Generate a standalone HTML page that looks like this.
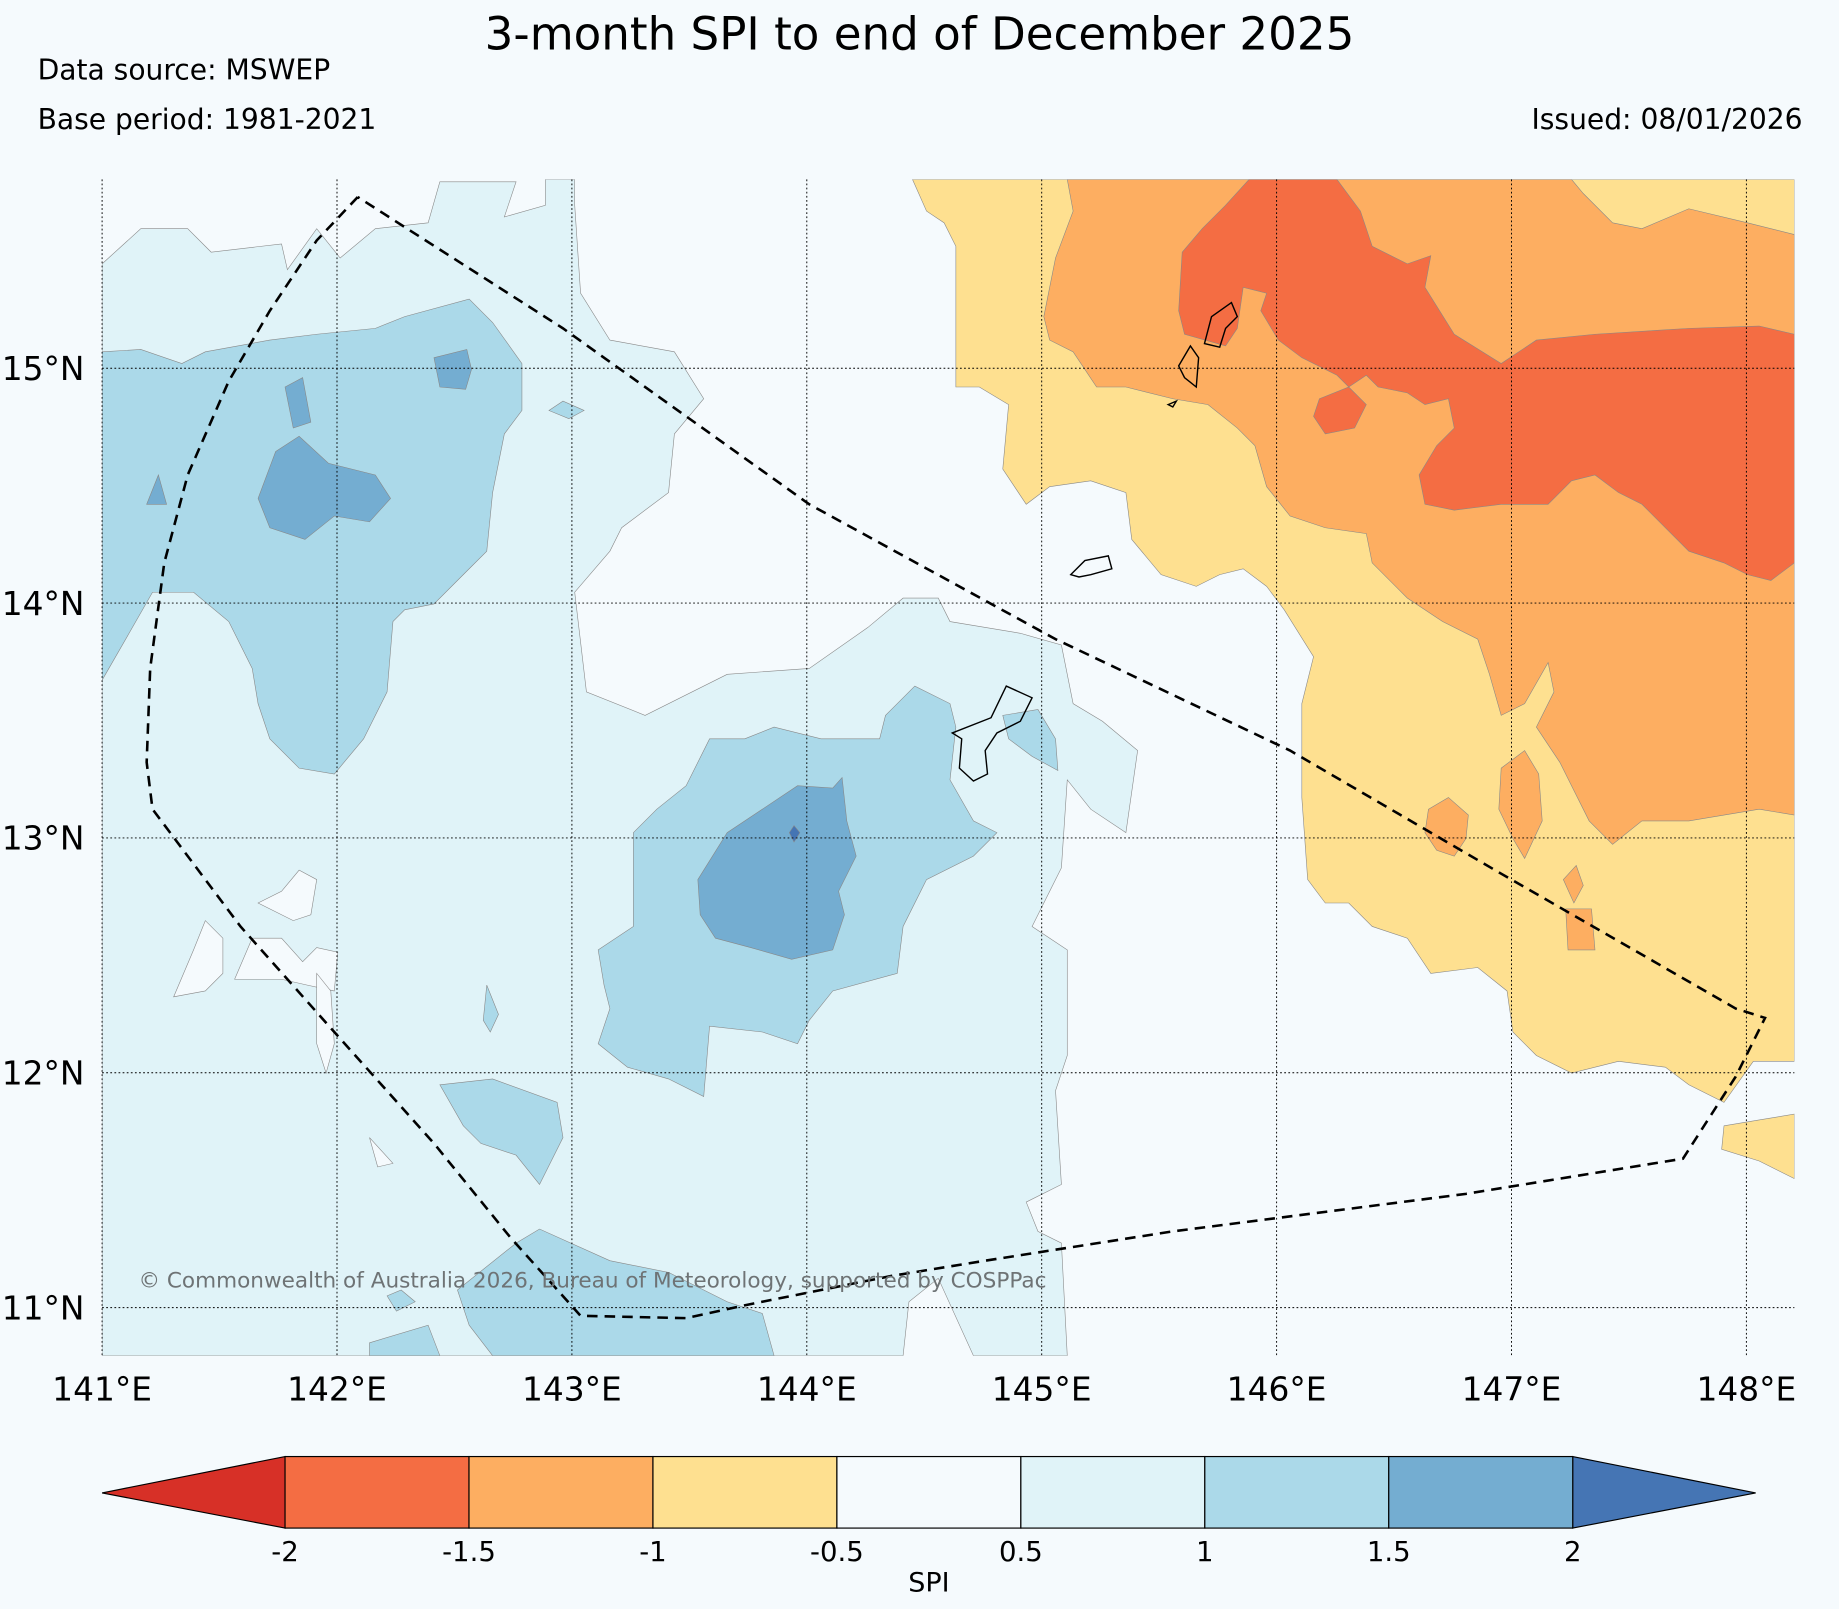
<!DOCTYPE html>
<html><head><meta charset="utf-8"><style>
html,body{margin:0;padding:0;background:#f5fafd;}
svg{display:block;font-family:"DejaVu Sans","Liberation Sans",sans-serif;}
</style></head><body>
<svg id="map" width="1839" height="1609" viewBox="0 0 1568 1372" xmlns="http://www.w3.org/2000/svg">
<rect x="0" y="0" width="1568" height="1372" fill="#f5fafd"/>
<text x="784" y="42" text-anchor="middle" font-size="38.5" fill="#000">3-month SPI to end of December 2025</text>
<text x="32" y="68" font-size="24">Data source: MSWEP</text>
<text x="32" y="110" font-size="24">Base period: 1981-2021</text>
<text x="1537" y="110" text-anchor="end" font-size="24">Issued: 08/01/2026</text>
<defs><clipPath id="plotclip"><rect x="87" y="153" width="1443" height="1003"/></clipPath></defs>
<g id="plot" clip-path="url(#plotclip)"></g>
<g id="axes"></g>
<g id="cbar"></g>
</svg>
<script>
// Map axis: projected lon/lat extents
const lonTicks = [141,142,143,144,145,146,147,148];
const latTicks = [15,14,13,12,11];
const cbarLevels = [-2,-1.5,-1,-0.5,0.5,1,1.5,2];
const cbarColors = ["#f46d43","#fdae61","#fee090","#f5fafd","#e0f3f8","#abd9e9","#74add1"];
const underColor = "#d73027";
const overColor = "#4575b4";
// contour polygons in plot coordinates (reference frame)
const lightBlue = [[87,225],[120,195],[160,195],[180,215],[240,208],[245,230],[270,195],[290,220],[320,195],[365,190],[375,155],[440,155],[430,185],[465,175],[465,153],[490,153],[490,175],[495,250],[520,290],[575,300],[600,340],[575,370],[570,420],[530,450],[520,470],[490,505],[500,590],[550,610],[620,575],[690,570],[740,535],[770,510],[800,510],[810,530],[870,540],[905,550],[915,600],[940,615],[970,640],[960,710],[930,690],[910,665],[905,740],[880,790],[910,810],[910,900],[900,930],[905,1010],[875,1025],[885,1050],[905,1060],[910,1156],[830,1156],[800,1090],[775,1110],[770,1156],[87,1156]];
const whiteHoles = [[[220,770],[240,760],[255,742],[270,750],[265,780],[250,785]],[[148,850],[165,810],[175,785],[190,800],[190,830],[175,845]],[[200,835],[215,800],[240,800],[258,820],[270,808],[288,812],[285,845],[262,840],[240,835]],[[270,830],[282,845],[285,890],[278,915],[270,890]],[[315,970],[322,995],[335,992]]];
const midBlue = [[[87,300],[120,298],[155,310],[175,300],[230,290],[270,285],[320,280],[345,270],[400,255],[420,275],[445,310],[445,350],[430,370],[420,420],[415,470],[395,490],[370,515],[345,520],[335,530],[330,590],[310,630],[285,660],[255,655],[230,630],[220,600],[215,570],[195,530],[165,505],[130,505],[110,540],[87,580]],
[[540,710],[560,690],[585,670],[605,630],[635,630],[660,620],[700,630],[750,630],[755,610],[780,585],[810,600],[815,620],[810,665],[830,700],[850,710],[830,730],[790,750],[770,790],[765,830],[710,845],[690,870],[680,890],[650,880],[605,875],[600,935],[570,920],[535,910],[510,890],[520,860],[515,840],[510,810],[540,790],[540,760]],
[[375,925],[420,920],[475,940],[480,970],[460,1010],[440,985],[410,975],[395,960]],
[[390,1100],[440,1060],[460,1048],[520,1075],[570,1085],[620,1110],[650,1120],[660,1156],[420,1156],[400,1130]],
[[315,1145],[365,1130],[375,1156],[315,1156]],[[330,1105],[342,1100],[354,1110],[338,1118]],
[[855,610],[885,605],[900,630],[902,657],[880,645],[860,630]],[[468,350],[480,342],[498,350],[485,357]],[[415,840],[425,865],[418,880],[412,870]]];
const darkBlue = [[[370,305],[398,298],[402,315],[397,332],[375,330]],[[243,330],[258,322],[265,360],[250,365]],[[125,430],[135,405],[142,430]],[[235,385],[255,372],[280,395],[320,405],[333,425],[315,445],[285,440],[260,460],[230,450],[220,425]],[[595,750],[620,710],[680,670],[710,672],[718,663],[722,700],[730,730],[715,760],[720,780],[710,810],[675,818],[640,808],[610,800],[597,780]]];
const darkestBlue = [[[673,710],[677,704],[682,710],[677,718]]];
const yellow = [[[778,153],[790,180],[805,190],[815,210],[815,330],[835,330],[860,345],[855,400],[875,430],[895,415],[930,410],[960,420],[965,460],[990,490],[1020,500],[1040,490],[1060,485],[1080,500],[1095,520],[1120,560],[1110,600],[1110,680],[1115,750],[1130,770],[1150,770],[1170,790],[1200,800],[1220,830],[1260,825],[1285,845],[1290,880],[1310,900],[1340,915],[1380,905],[1420,910],[1440,925],[1470,940],[1495,905],[1530,905],[1530,153]],[[1470,960],[1500,955],[1530,950],[1530,1005],[1500,990],[1468,980]]];
const orange = [[[910,153],[915,180],[900,220],[890,270],[895,290],[915,300],[935,330],[960,330],[1000,340],[1030,345],[1055,365],[1070,380],[1080,415],[1100,440],[1130,450],[1165,455],[1170,480],[1200,510],[1230,530],[1260,545],[1270,575],[1280,610],[1300,600],[1320,565],[1325,590],[1310,620],[1330,650],[1340,670],[1355,700],[1375,720],[1400,700],[1440,700],[1500,690],[1530,695],[1530,200],[1490,190],[1440,178],[1400,195],[1375,190],[1350,165],[1340,153]],
[[1218,690],[1235,680],[1252,695],[1250,715],[1240,730],[1225,725],[1215,710]],[[1280,655],[1300,640],[1312,660],[1315,700],[1300,732],[1290,715],[1278,690]],[[1335,775],[1357,775],[1360,810],[1337,810]],[[1333,750],[1344,738],[1350,755],[1342,770]]];
const red = [[[1008,215],[1025,195],[1045,175],[1065,153],[1140,153],[1160,180],[1170,210],[1200,225],[1220,218],[1215,245],[1240,285],[1280,310],[1310,290],[1360,285],[1440,280],[1500,278],[1530,285],[1530,480],[1510,495],[1490,490],[1470,480],[1440,470],[1400,430],[1380,420],[1360,405],[1340,410],[1320,430],[1280,430],[1240,435],[1215,430],[1210,405],[1225,380],[1240,365],[1235,340],[1215,345],[1200,335],[1175,330],[1165,320],[1150,330],[1140,320],[1110,305],[1090,290],[1075,265],[1080,250],[1060,245],[1055,280],[1045,295],[1010,285],[1005,265]],
[[1125,340],[1150,330],[1165,345],[1155,365],[1130,370],[1120,355]]];
const islands = [[[1027,293],[1033,270],[1050,258],[1055,270],[1045,280],[1040,296]],[[1005,312],[1015,295],[1022,305],[1020,330],[1010,322]],[[913,490],[925,478],[945,474],[948,485],[930,490],[920,492]],[[812,625],[845,612],[858,585],[880,595],[870,615],[850,625],[840,640],[842,660],[830,666],[818,655],[820,630]],[[996,345],[1003,342],[1000,347]]];
const boundary = [[305,168],[270,205],[230,265],[195,325],[160,405],[140,480],[128,570],[125,650],[130,690],[205,790],[285,880],[370,975],[435,1055],[495,1122],[585,1124],[640,1112],[700,1100],[760,1088],[840,1075],[1000,1050],[1250,1018],[1435,988],[1480,918],[1505,868],[1480,860],[1280,745],[1100,640],[900,545],[690,430],[480,280],[305,168]];

const NS="http://www.w3.org/2000/svg";
const X0=87, PXDEG=200.3, Y15=314;
function xLon(l){return X0+(l-141)*PXDEG;}
function yLat(l){return Y15-(l-15)*200.25;}
function mk(tag,attrs,parent){const e=document.createElementNS(NS,tag);for(const k in attrs)e.setAttribute(k,attrs[k]);parent.appendChild(e);return e;}
function pts(a){return a.map(p=>p[0]+","+p[1]).join(" ");}
const plot=document.getElementById("plot"), axes=document.getElementById("axes"), cbar=document.getElementById("cbar");

function layer(polys,fill,name){
  polys.forEach(poly=>{
    const e=mk("polygon",{points:pts(poly),fill:fill,stroke:"#888","stroke-width":0.5},plot);
    
    
  });
}
layer([lightBlue],cbarColors[4],"contour-0.5-1");
layer(whiteHoles,cbarColors[3],"contour-neutral");
layer(midBlue,cbarColors[5],"contour-1-1.5");
layer(darkBlue,cbarColors[6],"contour-1.5-2");
layer(darkestBlue,overColor,"contour-above-2");
layer(yellow,cbarColors[2],"contour-neg1-neg0.5");
layer(orange,cbarColors[1],"contour-neg1.5-neg1");
layer(red,cbarColors[0],"contour-neg2-neg1.5");
islands.forEach(poly=>{
  const e=mk("polygon",{points:pts(poly),fill:"none",stroke:"#000","stroke-width":1.2},plot);
  
  
});
// gridlines
lonTicks.forEach(l=>{
  const g=mk("line",{x1:xLon(l),x2:xLon(l),y1:153,y2:1156,stroke:"#000","stroke-width":0.8,"stroke-dasharray":"1.5,2"},axes);
  
  
  const t=mk("text",{x:xLon(l),y:1194,"text-anchor":"middle","font-size":28},axes);
  t.textContent=l+"°E";
  
  
});
latTicks.forEach(l=>{
  const g=mk("line",{x1:87,x2:1530,y1:yLat(l),y2:yLat(l),stroke:"#000","stroke-width":0.8,"stroke-dasharray":"1.5,2"},axes);
  
  
  const t=mk("text",{x:72,y:yLat(l)+10,"text-anchor":"end","font-size":28},axes);
  t.textContent=l+"°N";
  
  
});
const b=mk("polyline",{points:pts(boundary),fill:"none",stroke:"#000","stroke-width":2.2,"stroke-dasharray":"9,6"},axes);


const cr=mk("text",{x:118,y:1098,"font-size":18.4,fill:"#6e7375"},axes);
cr.textContent="© Commonwealth of Australia 2026, Bureau of Meteorology, supported by COSPPac";


// colorbar
const CB0=243, CB1=1341, CBT=1242, CBB=1303;
const cw=(CB1-CB0)/cbarColors.length;
function xCb(v){const i=cbarLevels.indexOf(v);return CB0+i*cw;}
const tl=mk("polygon",{points:`87,1273 ${CB0},${CBT} ${CB0},${CBB}`,fill:underColor,stroke:"#000","stroke-width":1},cbar);


const tr=mk("polygon",{points:`1497,1273 ${CB1},${CBT} ${CB1},${CBB}`,fill:overColor,stroke:"#000","stroke-width":1},cbar);


cbarColors.forEach((c,i)=>{
  const r=mk("rect",{x:xCb(cbarLevels[i]),y:CBT,width:cw,height:CBB-CBT,fill:c,stroke:"#000","stroke-width":1},cbar);
  
  
});
cbarLevels.forEach(v=>{
  const t=mk("text",{x:xCb(v),y:1331,"text-anchor":"middle","font-size":23.5},cbar);
  t.textContent=String(v);
  
  
});
const st=mk("text",{x:792,y:1357,"text-anchor":"middle","font-size":23},cbar);
st.textContent="SPI";


</script>
</body></html>
